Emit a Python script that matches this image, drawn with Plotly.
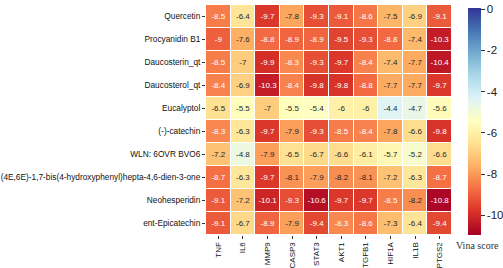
import plotly.graph_objects as go

compounds = ["Quercetin", "Procyanidin B1", "Daucosterin_qt", "Daucosterol_qt", "Eucalyptol",
             "(-)-catechin", "WLN: 6OVR BVO6", "(4E,6E)-1,7-bis(4-hydroxyphenyl)hepta-4,6-dien-3-one",
             "Neohesperidin", "ent-Epicatechin"]
targets = ["TNF", "IL6", "MMP9", "CASP3", "STAT3", "AKT1", "TGFB1", "HIF1A", "IL1B", "PTGS2"]
scores = [
    [-8.5, -6.4, -9.7, -7.8, -9.3, -9.1, -8.6, -7.5, -6.9, -9.1],
    [-9.0, -7.6, -8.8, -8.9, -8.9, -9.5, -9.3, -8.8, -7.4, -10.3],
    [-8.5, -7.0, -9.9, -8.3, -9.3, -9.7, -8.4, -7.4, -7.7, -10.4],
    [-8.4, -6.9, -10.3, -8.4, -9.8, -9.8, -8.8, -7.7, -7.7, -9.7],
    [-6.5, -5.5, -7.0, -5.5, -5.4, -6.0, -6.0, -4.4, -4.7, -5.6],
    [-8.3, -6.3, -9.7, -7.9, -9.3, -8.5, -8.4, -7.8, -6.6, -9.8],
    [-7.2, -4.8, -7.9, -6.5, -6.7, -6.6, -6.1, -5.7, -5.2, -6.6],
    [-8.7, -6.3, -9.7, -8.1, -7.9, -8.2, -8.1, -7.2, -6.3, -8.7],
    [-9.1, -7.2, -10.1, -9.3, -10.6, -9.7, -9.7, -8.5, -8.2, -10.8],
    [-9.1, -6.7, -8.9, -7.9, -9.4, -8.3, -8.6, -7.3, -6.4, -9.4],
]
cbar_ticks = [0, -2, -4, -6, -8, -10]

rdylbu = ["#a50026", "#d73027", "#f46d43", "#fdae61", "#fee090", "#ffffbf",
          "#e0f3f8", "#abd9e9", "#74add1", "#4575b4", "#313695"]
colorscale = [[i / 10, c] for i, c in enumerate(rdylbu)]

def fmt(v):
    return str(int(v)) if float(v).is_integer() else f"{v:g}"

fig = go.Figure()
fig.add_trace(go.Heatmap(
    z=scores, x=targets, y=compounds, zmin=-10.95, zmax=0.05,
    colorscale=colorscale, xgap=1, ygap=1, hoverinfo="skip",
    colorbar=dict(
        x=1.065, xanchor="left", xpad=0, y=0, yanchor="bottom", ypad=0,
        len=0.985, lenmode="fraction", thickness=13, outlinewidth=0,
        tickvals=cbar_ticks, ticktext=[fmt(t) for t in cbar_ticks],
        ticks="outside", ticklen=4, tickcolor="#333",
        tickfont=dict(family="Liberation Sans, Arial", size=11.5, color="#222"),
    ),
))

xs, ys, txt, cols = [], [], [], []
for ci, comp in enumerate(compounds):
    for ti, tg in enumerate(targets):
        v = scores[ci][ti]
        xs.append(tg)
        ys.append(comp)
        txt.append(fmt(v))
        cols.append("white" if v <= -8.25 else "#262626")
fig.add_trace(go.Scatter(
    x=xs, y=ys, text=txt, mode="text", hoverinfo="skip", showlegend=False,
    textfont=dict(family="Liberation Sans, Arial", size=8, color=cols),
))

fig.add_annotation(text="Vina score", xref="paper", yref="paper", x=1.01, y=-0.015,
                   xanchor="left", yanchor="top", showarrow=False,
                   font=dict(family="Liberation Serif, Times New Roman", size=10, color="#333"))

fig.update_xaxes(type="category", tickangle=-90, ticks="outside", ticklen=3, tickcolor="#333",
                 tickfont=dict(family="Liberation Sans, Arial", size=8, color="#111"),
                 showgrid=False, zeroline=False, showline=False, automargin=False)
fig.update_yaxes(type="category", autorange="reversed", ticks="outside", ticklen=3, tickcolor="#333",
                 tickfont=dict(family="Liberation Sans, Arial", size=8.3, color="#111"),
                 showgrid=False, zeroline=False, showline=False, automargin=False)
fig.update_layout(
    width=503, height=268, margin=dict(l=206, r=51, t=5, b=33, autoexpand=False),
    paper_bgcolor="white", plot_bgcolor="white", showlegend=False,
)
fig.write_html("out.html", config={"displayModeBar": False},
               post_script="document.body.style.margin='0';")
